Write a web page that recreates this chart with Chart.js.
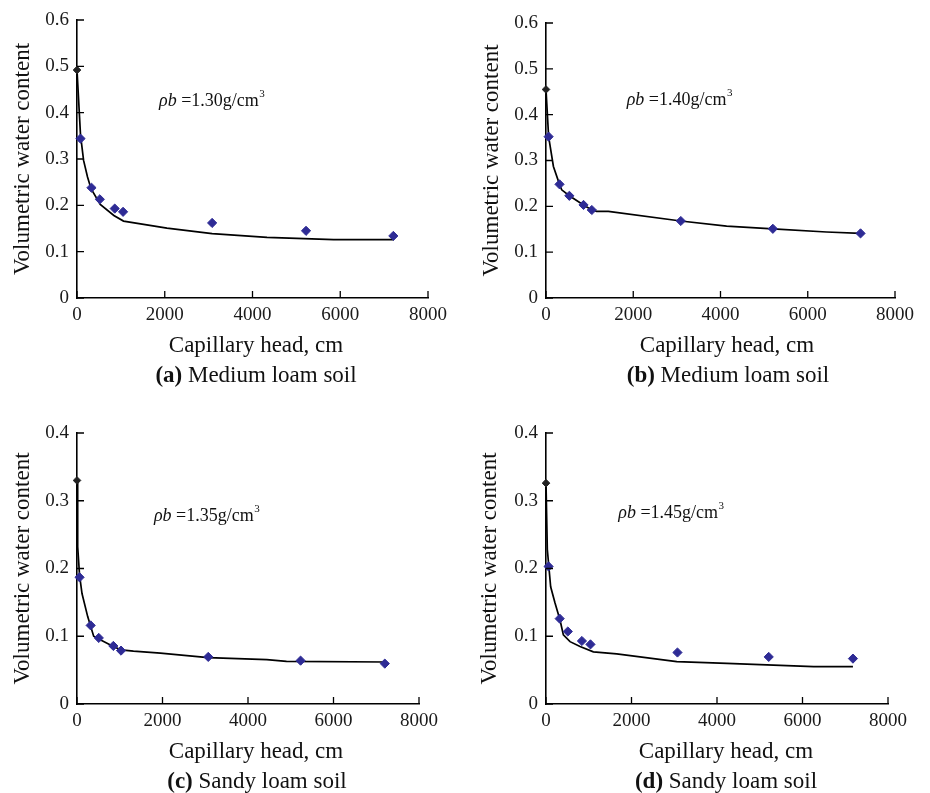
<!DOCTYPE html>
<html>
<head>
<meta charset="utf-8">
<title>Soil water retention curves</title>
<script src="https://cdn.jsdelivr.net/npm/chart.js@4.4.0/dist/chart.umd.min.js"></script>
<style>
  body { margin: 0; background: #fff; width: 930px; height: 793px; position: relative; overflow: hidden;
         font-family: "Liberation Serif", "Times New Roman", serif; color: #111; }
  canvas { position: absolute; }
  .lbl { position: absolute; transform: translate(-50%, -50%); white-space: nowrap; font-size: 23px; line-height: 1; }
  .cap { font-size: 23px; }
</style>
</head>
<body>
<canvas id="chartA" width="460" height="400" style="left:0;top:0"></canvas>
<canvas id="chartB" width="465" height="400" style="left:465px;top:0"></canvas>
<canvas id="chartC" width="460" height="388" style="left:0;top:405px"></canvas>
<canvas id="chartD" width="465" height="388" style="left:465px;top:405px"></canvas>

<div class="lbl" style="left:256px;top:344px">Capillary head, cm</div>
<div class="lbl cap" style="left:256px;top:374px"><b>(a)</b> Medium loam soil</div>
<div class="lbl" style="left:727px;top:344px">Capillary head, cm</div>
<div class="lbl cap" style="left:728px;top:374px"><b>(b)</b> Medium loam soil</div>
<div class="lbl" style="left:256px;top:750px">Capillary head, cm</div>
<div class="lbl cap" style="left:257px;top:780px"><b>(c)</b> Sandy loam soil</div>
<div class="lbl" style="left:726px;top:750px">Capillary head, cm</div>
<div class="lbl cap" style="left:726px;top:780px"><b>(d)</b> Sandy loam soil</div>

<script>
// measured points (capillary head cm / volumetric water content)
const headA = [0, 80, 330, 520, 860, 1050, 3080, 5220, 7210];
const thetaA = [0.492, 0.344, 0.238, 0.213, 0.193, 0.186, 0.162, 0.145, 0.134];
const fitHeadA = [0, 80, 150, 240, 320, 530, 840, 1060, 2050, 3080, 4330, 5850, 7220];
const fitThetaA = [0.492, 0.352, 0.297, 0.261, 0.236, 0.202, 0.178, 0.166, 0.151, 0.139, 0.131, 0.126, 0.126];

const headB = [0, 60, 310, 535, 860, 1050, 3090, 5200, 7210];
const thetaB = [0.455, 0.352, 0.248, 0.223, 0.203, 0.192, 0.168, 0.151, 0.141];
const fitHeadB = [0, 60, 170, 310, 360, 535, 860, 1050, 1160, 1430, 3090, 4140, 5200, 6430, 7210];
const fitThetaB = [0.455, 0.352, 0.287, 0.248, 0.236, 0.223, 0.203, 0.192, 0.189, 0.189, 0.168, 0.157, 0.151, 0.144, 0.141];

const headC = [0, 60, 320, 510, 850, 1030, 3070, 5230, 7200];
const thetaC = [0.330, 0.187, 0.116, 0.0975, 0.0857, 0.0788, 0.0695, 0.064, 0.0596];
const fitHeadC = [0, 16, 60, 117, 250, 390, 510, 850, 1030, 1320, 1950, 3070, 4440, 4900, 7200];
const fitThetaC = [0.330, 0.232, 0.19, 0.163, 0.129, 0.100, 0.096, 0.085, 0.080, 0.078, 0.075, 0.0685, 0.0655, 0.063, 0.062];

const headD = [0, 60, 320, 510, 840, 1040, 3075, 5210, 7180];
const thetaD = [0.326, 0.203, 0.126, 0.107, 0.093, 0.088, 0.076, 0.0695, 0.067];
const fitHeadD = [0, 31, 109, 211, 328, 406, 562, 796, 1108, 1654, 3059, 4230, 6259, 7180];
const fitThetaD = [0.326, 0.228, 0.173, 0.149, 0.124, 0.102, 0.092, 0.085, 0.077, 0.074, 0.0626, 0.060, 0.0552, 0.0552];

const xTicks = [0, 2000, 4000, 6000, 8000];
const yTicksMedium = [0, 0.1, 0.2, 0.3, 0.4, 0.5, 0.6];
const yTicksSandy = [0, 0.1, 0.2, 0.3, 0.4];

const SERIF = '"Liberation Serif", "Times New Roman", serif';
const pointBlue = '#2e2b95';

const toPoints = (xs, ys) => xs.map((x, i) => ({ x, y: ys[i] }));

// tick marks point inward in the original
const innerTicks = {
  id: 'innerTicks',
  afterDraw(chart) {
    const { ctx, chartArea: a, scales: { x, y } } = chart;
    ctx.save();
    ctx.strokeStyle = '#000';
    ctx.lineWidth = 1.3;
    ctx.beginPath();
    x.ticks.forEach(t => {
      const px = x.getPixelForValue(t.value);
      ctx.moveTo(px, a.bottom);
      ctx.lineTo(px, a.bottom - 7);
    });
    y.ticks.forEach(t => {
      const py = y.getPixelForValue(t.value);
      ctx.moveTo(a.left, py);
      ctx.lineTo(a.left + 7, py);
    });
    ctx.stroke();
    ctx.restore();
  }
};

// "ρb =1.30g/cm3" note
const densityLabel = {
  id: 'densityLabel',
  afterDatasetsDraw(chart, args, opts) {
    if (!opts.text) return;
    const { ctx, scales: { x, y } } = chart;
    let px = x.getPixelForValue(opts.at[0]);
    const py = y.getPixelForValue(opts.at[1]);
    ctx.save();
    ctx.fillStyle = '#111';
    ctx.textBaseline = 'alphabetic';
    ctx.textAlign = 'left';
    ctx.font = 'italic 18px ' + SERIF;
    ctx.fillText('ρb', px, py);
    px += ctx.measureText('ρb').width;
    const mid = ' =' + opts.text + 'g/cm';
    ctx.font = '18px ' + SERIF;
    ctx.fillText(mid, px, py);
    px += ctx.measureText(mid).width;
    ctx.font = '11px ' + SERIF;
    ctx.fillText('3', px + 0.5, py - 9);
    ctx.restore();
  }
};

function makeChart(id, p) {
  const canvas = document.getElementById(id);
  const xAxisH = 40;
  return new Chart(canvas, {
    type: 'scatter',
    data: {
      datasets: [
        {
          label: 'measured',
          data: toPoints(p.head, p.theta),
          pointStyle: 'rectRot',
          pointRadius: p.head.map((h, i) => i === 0 ? 3.8 : 4.6),
          pointBackgroundColor: p.head.map((h, i) => i === 0 ? '#222' : pointBlue),
          pointBorderColor: p.head.map((h, i) => i === 0 ? '#222' : pointBlue),
          pointBorderWidth: 1,
          showLine: false,
          clip: false
        },
        {
          label: 'fitted',
          data: toPoints(p.fitHead, p.fitTheta),
          showLine: true,
          borderColor: '#000',
          borderWidth: 1.7,
          pointRadius: 0,
          tension: 0,
          clip: false
        }
      ]
    },
    options: {
      responsive: false,
      animation: false,
      events: [],
      layout: { padding: { left: 0, top: p.top, right: canvas.width - p.right, bottom: canvas.height - p.bottom - xAxisH } },
      plugins: {
        legend: { display: false },
        tooltip: { enabled: false },
        densityLabel: { text: p.rho, at: p.rhoAt }
      },
      scales: {
        x: {
          type: 'linear',
          min: 0,
          max: 8000,
          afterBuildTicks: s => { s.ticks = xTicks.map(v => ({ value: v })); },
          afterFit: s => { s.height = xAxisH; },
          grid: { display: false, drawTicks: false },
          border: { display: true, color: '#000', width: 1.6 },
          ticks: { padding: 6, color: '#1a1a1a', font: { family: SERIF, size: 19 }, callback: v => String(v) }
        },
        y: {
          type: 'linear',
          min: 0,
          max: p.yTicks[p.yTicks.length - 1],
          afterBuildTicks: s => { s.ticks = p.yTicks.map(v => ({ value: v })); },
          afterFit: s => { s.width = p.left; },
          grid: { display: false, drawTicks: false },
          border: { display: true, color: '#000', width: 1.6 },
          ticks: { padding: 8, color: '#1a1a1a', font: { family: SERIF, size: 19 },
                   callback: v => v === 0 ? '0' : v.toFixed(1) },
          title: { display: true, text: 'Volumetric water content', color: '#111',
                   font: { family: SERIF, size: 23 }, padding: { top: p.titlePad, bottom: 0 } }
        }
      }
    },
    plugins: [innerTicks, densityLabel]
  });
}

makeChart('chartA', { head: headA, theta: thetaA, fitHead: fitHeadA, fitTheta: fitThetaA, yTicks: yTicksMedium,
  left: 77, right: 428, top: 20, bottom: 298, titlePad: 9, rho: '1.30', rhoAt: [1870, 0.414] });
makeChart('chartB', { head: headB, theta: thetaB, fitHead: fitHeadB, fitTheta: fitThetaB, yTicks: yTicksMedium,
  left: 81, right: 430, top: 23, bottom: 298, titlePad: 13, rho: '1.40', rhoAt: [1850, 0.421] });
makeChart('chartC', { head: headC, theta: thetaC, fitHead: fitHeadC, fitTheta: fitThetaC, yTicks: yTicksSandy,
  left: 77, right: 419, top: 28, bottom: 299, titlePad: 9, rho: '1.35', rhoAt: [1800, 0.2705] });
makeChart('chartD', { head: headD, theta: thetaD, fitHead: fitHeadD, fitTheta: fitThetaD, yTicks: yTicksSandy,
  left: 81, right: 423, top: 28, bottom: 299, titlePad: 11, rho: '1.45', rhoAt: [1690, 0.274] });
</script>
</body>
</html>
